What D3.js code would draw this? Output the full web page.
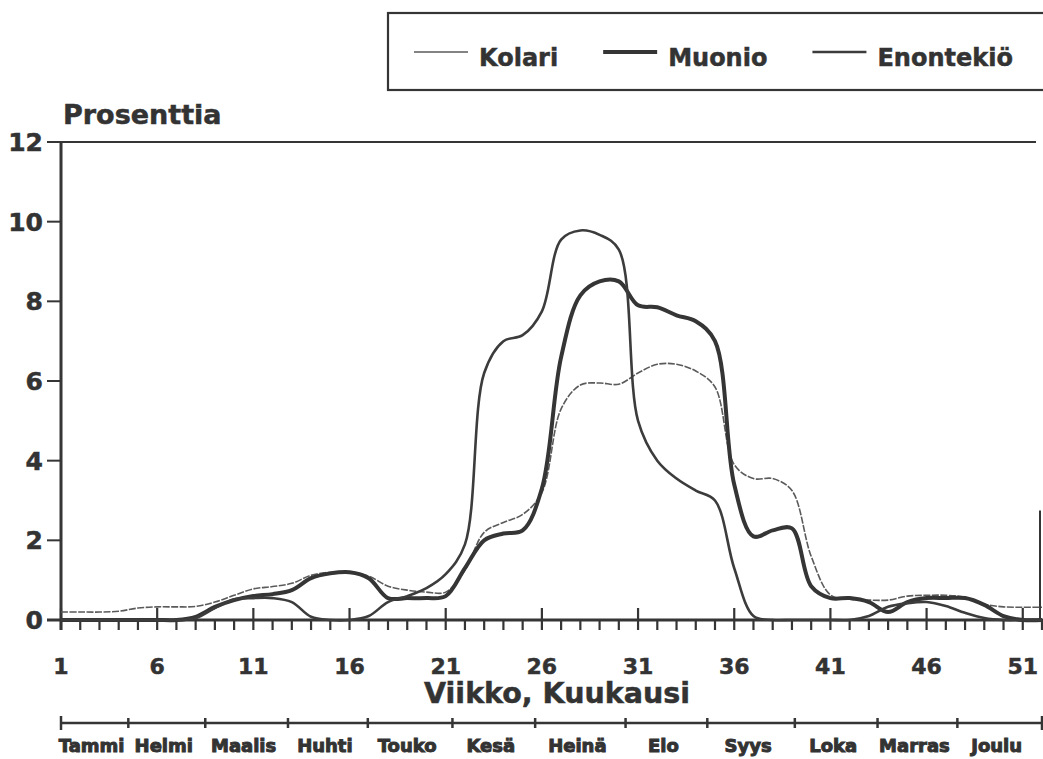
<!DOCTYPE html>
<html>
<head>
<meta charset="utf-8">
<script src="https://cdn.jsdelivr.net/npm/d3@7"></script>
<style>
	body { margin: 0; background: #fff; }
	text { font-family: "DejaVu Sans", sans-serif; font-weight: bold; fill: #333; }
</style>
</head>
<body>
<div id="chart"></div>
<script>
// viikot 1..52
var weeks = d3.range(1, 53);

var kolari = [0.2, 0.2, 0.2, 0.22, 0.3, 0.33, 0.33, 0.34, 0.45, 0.62,
	0.78, 0.84, 0.92, 1.12, 1.2, 1.2, 1.1, 0.85, 0.75, 0.7,
	0.7, 1.25, 2.2, 2.45, 2.65, 3.2, 5.3, 5.9, 5.95, 5.92,
	6.2, 6.42, 6.42, 6.25, 5.85, 3.9, 3.55, 3.55, 3.25, 1.6,
	0.63, 0.52, 0.5, 0.5, 0.6, 0.62, 0.62, 0.57, 0.4, 0.33,
	0.32, 0.32];

var muonio = [0, 0, 0, 0, 0, 0, 0, 0.08, 0.33, 0.5,
	0.6, 0.65, 0.75, 1.05, 1.17, 1.2, 1.05, 0.55, 0.55, 0.55,
	0.6, 1.3, 2.0, 2.17, 2.25, 3.3, 6.6, 8.15, 8.5, 8.5,
	7.9, 7.85, 7.65, 7.5, 7.0, 3.4, 2.1, 2.25, 2.3, 0.85,
	0.55, 0.55, 0.45, 0.2, 0.45, 0.55, 0.55, 0.55, 0.38, 0.1,
	0, 0];

var enontekio = [0, 0, 0, 0, 0, 0, 0, 0.05, 0.3, 0.52,
	0.55, 0.55, 0.45, 0.08, 0, 0, 0.1, 0.45, 0.6, 0.8,
	1.15, 1.9, 6.2, 7.0, 7.15, 7.75, 9.55, 9.78, 9.67, 9.3,
	5.0, 4.0, 3.55, 3.25, 3.0, 1.3, 0.1, 0, 0, 0,
	0, 0, 0.1, 0.33, 0.42, 0.45, 0.35, 0.18, 0.05, 0,
	0, 0];

var seriesNames = ['Kolari', 'Muonio', 'Enontekiö'];
var yTicks = [0, 2, 4, 6, 8, 10, 12];
var weekLabels = [1, 6, 11, 16, 21, 26, 31, 36, 41, 46, 51];
var months = ['Tammi', 'Helmi', 'Maalis', 'Huhti', 'Touko', 'Kesä', 'Heinä', 'Elo', 'Syys', 'Loka', 'Marras', 'Joulu'];
// kuukausien rajat viikkoina
var monthBounds = [1, 4.5, 8.5, 12.8, 16.95, 21.35, 25.65, 30.35, 34.6, 39.15, 43.45, 47.6, 52];

var width = 1043, height = 759;
var ink = '#353535';

var svg = d3.select('#chart').append('svg')
	.attr('width', width)
	.attr('height', height);

var x = d3.scaleLinear().domain([1, 52]).range([61, 1042]);
var y = d3.scaleLinear().domain([0, 12]).range([620, 142]);

var styles = [
	{ width: 1.6, color: '#5a5a5a', dash: '7,1.5' },
	{ width: 4, color: ink, dash: null },
	{ width: 2.6, color: '#3c3c3c', dash: null }
];

// kehys ylhäällä ja oikealla
svg.append('line')
	.attr('x1', x(1)).attr('x2', 1036)
	.attr('y1', y(12)).attr('y2', y(12))
	.attr('stroke', ink).attr('stroke-width', 2.2);
svg.append('line')
	.attr('x1', x(52) - 2).attr('x2', x(52) - 2)
	.attr('y1', y(2.75)).attr('y2', y(0))
	.attr('stroke', ink).attr('stroke-width', 2);

// y-akseli
svg.append('line')
	.attr('x1', x(1)).attr('x2', x(1))
	.attr('y1', y(12)).attr('y2', y(0) + 10)
	.attr('stroke', ink).attr('stroke-width', 3);

var yg = svg.append('g');
yg.selectAll('line')
	.data(yTicks)
	.enter().append('line')
	.attr('x1', 47).attr('x2', x(1))
	.attr('y1', function(d) { return y(d); })
	.attr('y2', function(d) { return y(d); })
	.attr('stroke', ink).attr('stroke-width', 2);
yg.selectAll('text')
	.data(yTicks)
	.enter().append('text')
	.attr('x', 43)
	.attr('y', function(d) { return y(d) + 9; })
	.attr('text-anchor', 'end')
	.style('font-size', '25px')
	.style('stroke', '#333')
	.style('stroke-width', 0.5)
	.text(function(d) { return d; });

svg.append('text')
	.attr('x', 63).attr('y', 124)
	.style('font-size', '27px')
	.style('stroke', '#333')
	.style('stroke-width', 0.5)
	.text('Prosenttia');

// x-akseli, viikot
svg.append('line')
	.attr('x1', 47).attr('x2', width)
	.attr('y1', y(0)).attr('y2', y(0))
	.attr('stroke', ink).attr('stroke-width', 3);

svg.append('g').selectAll('line')
	.data(weeks)
	.enter().append('line')
	.attr('x1', function(d) { return x(d); })
	.attr('x2', function(d) { return x(d); })
	.attr('y1', function(d) { return weekLabels.indexOf(d) >= 0 ? y(0) - 12 : y(0); })
	.attr('y2', y(0) + 10)
	.attr('stroke', ink).attr('stroke-width', 2.2);

svg.append('g').selectAll('text')
	.data(weekLabels)
	.enter().append('text')
	.attr('x', function(d) { return x(d); })
	.attr('y', 674)
	.attr('text-anchor', 'middle')
	.style('font-size', '22px')
	.style('stroke', '#333')
	.style('stroke-width', 0.5)
	.text(function(d) { return d; });

svg.append('text')
	.attr('x', 557).attr('y', 703)
	.attr('text-anchor', 'middle')
	.style('font-size', '28.5px')
	.style('stroke', '#333')
	.style('stroke-width', 0.5)
	.text('Viikko, Kuukausi');

// kuukausiakseli
var mY = 723;
svg.append('line')
	.attr('x1', x(1)).attr('x2', x(52))
	.attr('y1', mY).attr('y2', mY)
	.attr('stroke', ink).attr('stroke-width', 2.5);
svg.append('g').selectAll('line')
	.data(monthBounds)
	.enter().append('line')
	.attr('x1', function(d) { return x(d); })
	.attr('x2', function(d) { return x(d); })
	.attr('y1', function(d, i) { return (i == 0 || i == monthBounds.length - 1) ? mY - 7 : mY - 5; })
	.attr('y2', function(d, i) { return (i == 0 || i == monthBounds.length - 1) ? mY + 7 : mY + 5; })
	.attr('stroke', ink).attr('stroke-width', 2.5);
svg.append('g').selectAll('text')
	.data(months)
	.enter().append('text')
	.attr('x', function(d, i) { return (x(monthBounds[i]) + x(monthBounds[i + 1])) / 2 - 3; })
	.attr('y', 752)
	.attr('text-anchor', 'middle')
	.style('font-size', '18px')
	.style('stroke', '#333')
	.style('stroke-width', 1)
	.text(function(d) { return d; });

// käyrät
var line = d3.line()
	.x(function(d, i) { return x(weeks[i]); })
	.y(function(d) { return y(d); })
	.curve(d3.curveCatmullRom.alpha(0.5));

var allSeries = [kolari, muonio, enontekio];
svg.append('g').selectAll('path')
	.data(allSeries)
	.enter().append('path')
	.attr('d', line)
	.attr('fill', 'none')
	.attr('stroke', function(d, i) { return styles[i].color; })
	.attr('stroke-width', function(d, i) { return styles[i].width; })
	.attr('stroke-dasharray', function(d, i) { return styles[i].dash; })
	.attr('stroke-linejoin', 'round');

// selite
var lg = svg.append('g').attr('class', 'legend');
lg.append('rect')
	.attr('x', 388).attr('y', 13)
	.attr('width', 700).attr('height', 77)
	.attr('fill', 'none')
	.attr('stroke', ink).attr('stroke-width', 2.2);

var lx = 414;
seriesNames.forEach(function(name, i) {
	lg.append('line')
		.attr('x1', lx).attr('x2', lx + 54)
		.attr('y1', 52).attr('y2', 52)
		.attr('stroke', styles[i].color)
		.attr('stroke-width', styles[i].width);
	var t = lg.append('text')
		.attr('x', lx + 65).attr('y', 66)
		.style('font-size', '24px')
		.style('stroke', '#333')
		.style('stroke-width', 0.5)
		.text(name);
	lx = lx + 65 + t.node().getComputedTextLength() + 45;
});
</script>
</body>
</html>
